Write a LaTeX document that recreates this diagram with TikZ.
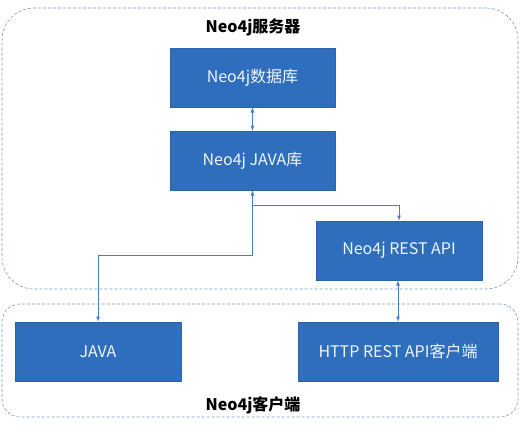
\documentclass[tikz,border=0pt]{standalone}
\usepackage{fontspec}
\setmainfont{Noto Sans CJK SC}
\usepackage{tikz}
\usetikzlibrary{positioning,calc}
\definecolor{BoxBlue}{HTML}{2F6EBD}
\definecolor{BoxEdge}{HTML}{2A62AC}
\definecolor{LinkBlue}{HTML}{4A7BC8}
\definecolor{FrameGray}{HTML}{7F95B3}
\tikzset{link/.style={<->,>=latex,LinkBlue,line width=0.8pt}}

\begin{document}
\begin{tikzpicture}[x=1pt,y=-1pt]
		\tikzstyle{Block}=[rectangle,fill=BoxBlue,draw=BoxEdge,line width=0.6pt,text=white!92!BoxBlue,font=\fontsize{16}{19}\selectfont,minimum height=59pt,inner sep=0pt]
		\tikzstyle{Frame}=[rectangle,draw=FrameGray,densely dashed,line width=0.6pt,inner sep=0pt]
		\tikzstyle{Title}=[font=\fontsize{16}{19}\selectfont\bfseries,text=black]

		\useasboundingbox (0,0) rectangle (526,425);

		% frames
		\node [Frame,rounded corners=32pt,minimum width=516pt,minimum height=281pt] (Server) at (260,148.5) {};
		\node [Frame,rounded corners=18pt,minimum width=516pt,minimum height=113pt] (Client) at (260,360.5) {};
		\node [Title] (ServerTitle) at (253,27) {Neo4j服务器};
		\node [Title] (ClientTitle) at (253,405) {Neo4j客户端};

		% server side
		\node [Block,minimum width=165pt] (DB) at (252.5,77.5) {Neo4j数据库};
		\node [Block,minimum width=165pt] (JavaLib) at (252.5,160.5) {Neo4j JAVA库};
		\node [Block,minimum width=166pt] (Rest) at (399,250.5) {Neo4j REST API};

		% client side
		\node [Block,minimum width=166pt] (Java) at (98,351.5) {JAVA};
		\node [Block,minimum width=200pt] (Http) at (398,351.5) {HTTP REST API客户端};

		\coordinate (Branch) at (252.5,205);
		\coordinate (Bend) at (252.5,255);

		\draw [link] (DB) -- (JavaLib);
		\draw [link] (JavaLib.south) -- (Bend) -| (Java.north);
		\draw [link,<-] (Rest.north) |- (Branch);
		\draw [link] (Rest.south -| Http.north) -- (Http.north);
  \end{tikzpicture}
\end{document}
